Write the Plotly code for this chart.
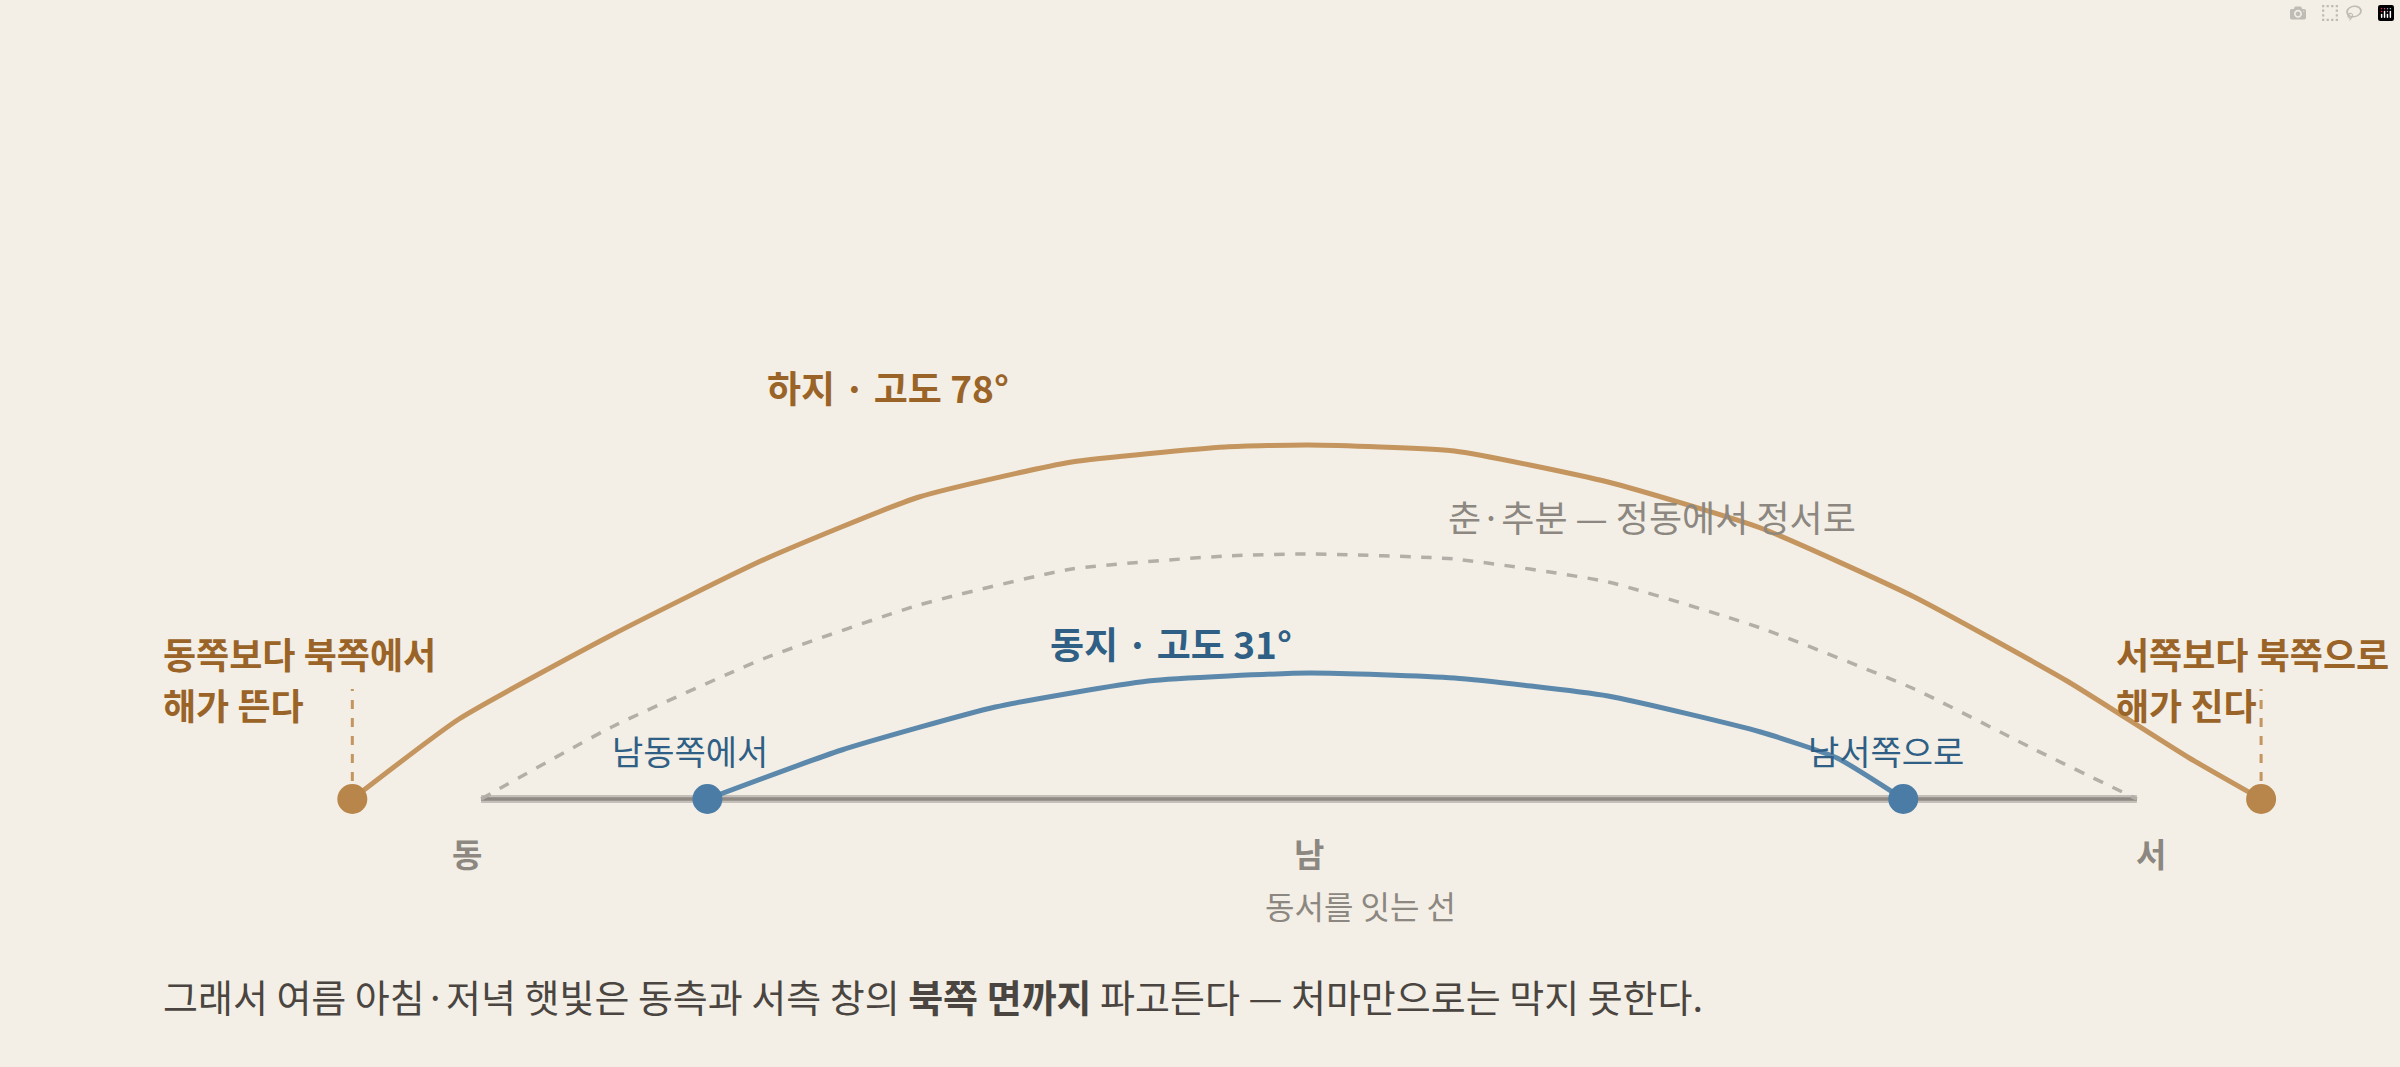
import plotly.graph_objects as go

# azimuth (deg, east=-90, south=0, west=90) and drawn arc height (relative units)
summer_az = [-104, -92.4, -75.8, -59.1, -42.4, -25.8, -9.1, 0, 15.8, 32.5, 49.1, 65.8, 82.4, 95.7, 103.5]
summer_h = [0, 80, 164, 240, 302, 337, 352, 354, 348, 317, 271, 202, 118, 41, 0]
equinox_az = [-90, -75.8, -59.1, -42.4, -25.8, -9.1, 0, 15.8, 32.5, 49.1, 65.8, 79, 90]
equinox_h = [0, 72, 141, 194, 230, 243, 245, 240, 217, 171, 110, 49, 0]
winter_az = [-65.4, -50.8, -34.1, -17.5, 0, 15.8, 32.5, 49.1, 57.4, 64.6]
winter_h = [0, 49, 92, 118, 126, 121, 103, 67, 41, 0]
horizon_az = [-90, 90]
dir_labels = ["동", "남", "서"]
dir_az = [-90, 0, 90]

FONT = "Noto Sans CJK KR"
BROWN = "#9a6428"
BLUE = "#2f5f85"
GRAY = "#8c8780"

fig = go.Figure()
fig.add_trace(go.Scatter(x=horizon_az, y=[0, 0], mode="lines",
                         line=dict(color="#c4c0b9", width=8), hoverinfo="skip"))
fig.add_trace(go.Scatter(x=horizon_az, y=[0, 0], mode="lines",
                         line=dict(color="#8f8a84", width=3.5), hoverinfo="skip"))
fig.add_trace(go.Scatter(x=equinox_az, y=equinox_h, mode="lines",
                         line=dict(color="#b3afa8", width=3.5, dash="dash", shape="spline", smoothing=0.5), hoverinfo="skip"))
fig.add_trace(go.Scatter(x=summer_az, y=summer_h, mode="lines",
                         line=dict(color="#c4955e", width=5, shape="spline", smoothing=0.5), hoverinfo="skip"))
fig.add_trace(go.Scatter(x=winter_az, y=winter_h, mode="lines",
                         line=dict(color="#5b88ab", width=5, shape="spline", smoothing=0.5), hoverinfo="skip"))
fig.add_trace(go.Scatter(x=[summer_az[0], summer_az[-1]], y=[0, 0], mode="markers",
                         marker=dict(color="#b8864a", size=30), hoverinfo="skip"))
fig.add_trace(go.Scatter(x=[winter_az[0], winter_az[-1]], y=[0, 0], mode="markers",
                         marker=dict(color="#4a7ca6", size=30), hoverinfo="skip"))
for a in [summer_az[0], summer_az[-1]]:
    fig.add_trace(go.Scatter(x=[a, a], y=[18, 110], mode="lines",
                             line=dict(color="#c4955e", width=3, dash="dash"), hoverinfo="skip"))

ann = []
def t(x, y, s, color, size, bold=False, xanchor="center"):
    ann.append(dict(x=x, y=y, text=f"<b>{s}</b>" if bold else s, showarrow=False,
                    font=dict(family=FONT, size=size, color=color), xanchor=xanchor, yanchor="middle"))

t(-45.8, 412, "하지 · 고도 78°", BROWN, 37, True)
t(-15, 156, "동지 · 고도 31°", BLUE, 37, True)
t(37.3, 283, "춘·추분 — 정동에서 정서로", GRAY, 36)
t(-67.3, 49, "남동쪽에서", BLUE, 34)
t(62.7, 49, "남서쪽으로", BLUE, 34)
t(-124.8, 146, "동쪽보다 북쪽에서", BROWN, 36, True, "left")
t(-124.8, 95, "해가 뜬다", BROWN, 36, True, "left")
t(87.5, 146, "서쪽보다 북쪽으로", BROWN, 36, True, "left")
t(87.5, 95, "해가 진다", BROWN, 36, True, "left")
for a, s in zip(dir_az, dir_labels):
    t(a + (-1.5 if s == "동" else (1.5 if s == "서" else 0)), -54, s, GRAY, 33, True)
t(5.6, -106, "동서를 잇는 선", GRAY, 32)
t(-124.8, -196, "그래서 여름 아침·저녁 햇빛은 동측과 서측 창의 <b>북쪽 면까지</b> 파고든다 — 처마만으로는 막지 못한다.",
  "#4a4540", 38, False, "left")

fig.update_layout(
    width=2400, height=1067, margin=dict(l=0, r=0, t=0, b=0),
    paper_bgcolor="#f3efe6", plot_bgcolor="#f3efe6", showlegend=False,
    xaxis=dict(range=[-142.3, 118.6], visible=False, fixedrange=True),
    yaxis=dict(range=[-268, 799], visible=False, fixedrange=True),
    annotations=ann,
)
fig.write_html("out.html", post_script="document.body.style.margin='0';document.body.style.background='#f3efe6';")
